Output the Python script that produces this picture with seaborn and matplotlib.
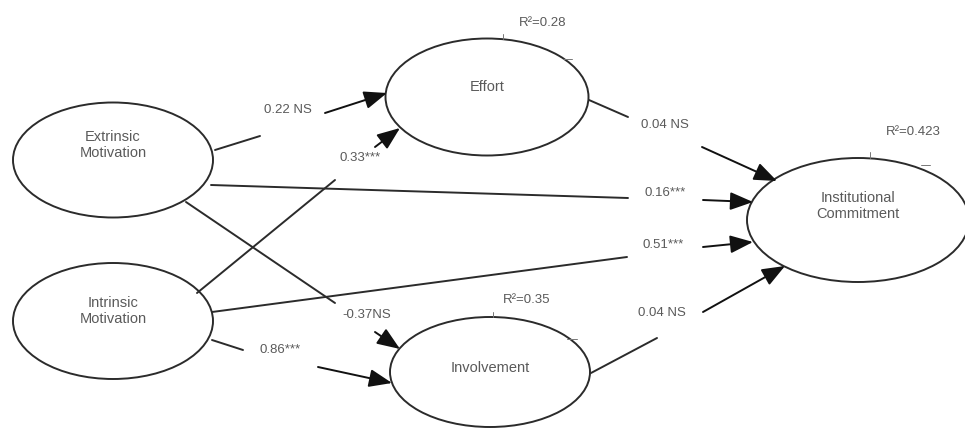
import matplotlib.pyplot as plt
from matplotlib.patches import Ellipse
import seaborn as sns

# path model: constructs, coefficients and R squared
constructs = ["Extrinsic\nMotivation", "Intrinsic\nMotivation", "Effort",
              "Involvement", "Institutional\nCommitment"]
r2_targets = ["Effort", "Involvement", "Institutional\nCommitment"]
r2_values = ["0.28", "0.35", "0.423"]
path_labels = ["0.22 NS", "0.33***", "-0.37NS", "0.86***",
               "0.16***", "0.51***", "0.04 NS", "0.04 NS"]

# layout (pixel coordinates of the drawing, y downwards)
node_pos = {
    "Extrinsic\nMotivation": (113, 160, 200, 115),
    "Intrinsic\nMotivation": (113, 321, 200, 116),
    "Effort": (487, 97, 203, 117),
    "Involvement": (490, 372, 200, 110),
    "Institutional\nCommitment": (858, 220, 222, 124),
}
node_text_y = {
    "Extrinsic\nMotivation": 145,
    "Intrinsic\nMotivation": 311,
    "Effort": 87,
    "Involvement": 368,
    "Institutional\nCommitment": 206,
}
r2_pos = [(543, 23), (527, 300), (913, 132)]
r2_ticks = [[((503, 34), (503, 39)), ((563, 59), (572, 59))],
            [((493, 312), (493, 317)), ((567, 339), (577, 339))],
            [((870, 152), (870, 158)), ((921, 165), (930, 165))]]
# each path: first segment, label position, arrow segment
path_geom = [
    (((215, 150), (260, 136)), (288, 110), ((325, 113), (387, 93))),
    (((197, 293), (335, 180)), (360, 158), ((375, 147), (400, 128))),
    (((186, 202), (335, 303)), (367, 315), ((375, 332), (400, 349))),
    (((212, 340), (243, 350)), (280, 350), ((318, 367), (392, 383))),
    (((211, 185), (628, 198)), (665, 193), ((703, 200), (753, 202))),
    (((212, 312), (627, 257)), (663, 245), ((703, 247), (753, 242))),
    (((589, 100), (628, 117)), (665, 125), ((702, 147), (777, 181))),
    (((591, 373), (657, 338)), (662, 313), ((703, 312), (785, 266))),
]

sns.set_theme(style="white")
plt.rcParams['font.family'] = ['Liberation Sans', 'DejaVu Sans']

line_c = "#2b2b2b"
text_c = "#5a5a5a"

fig = plt.figure(figsize=(9.65, 4.28), dpi=100)
ax = fig.add_axes([0, 0, 1, 1])
ax.set_xlim(0, 965)
ax.set_ylim(428, 0)
ax.axis("off")

for name in constructs:
    cx, cy, w, h = node_pos[name]
    ax.add_patch(Ellipse((cx, cy), w, h, fill=False, ec=line_c, lw=1.4))
    ax.text(cx, node_text_y[name], name, ha="center", va="center",
            fontsize=10.5, color=text_c, linespacing=1.25)

for name, val, pos, ticks in zip(r2_targets, r2_values, r2_pos, r2_ticks):
    ax.text(pos[0], pos[1], "R²=" + val, ha="center", va="center",
            fontsize=9.5, color=text_c)
    for (a, b) in ticks:
        ax.plot([a[0], b[0]], [a[1], b[1]], color="#777777", lw=0.7)

for lab, (seg, lpos, arr) in zip(path_labels, path_geom):
    sns.lineplot(x=[seg[0][0], seg[1][0]], y=[seg[0][1], seg[1][1]],
                 color=line_c, lw=1.4, sort=False, ax=ax)
    ax.text(lpos[0], lpos[1], lab, ha="center", va="center",
            fontsize=9.5, color=text_c)
    ax.annotate("", xy=arr[1], xytext=arr[0],
                arrowprops=dict(arrowstyle="-|>,head_length=1.4,head_width=0.55",
                                color="#111111", lw=1.4, shrinkA=0, shrinkB=0,
                                mutation_scale=10))

ax.set_xlim(0, 965)
ax.set_ylim(428, 0)
fig.savefig("out.png", dpi=100, facecolor="white")
